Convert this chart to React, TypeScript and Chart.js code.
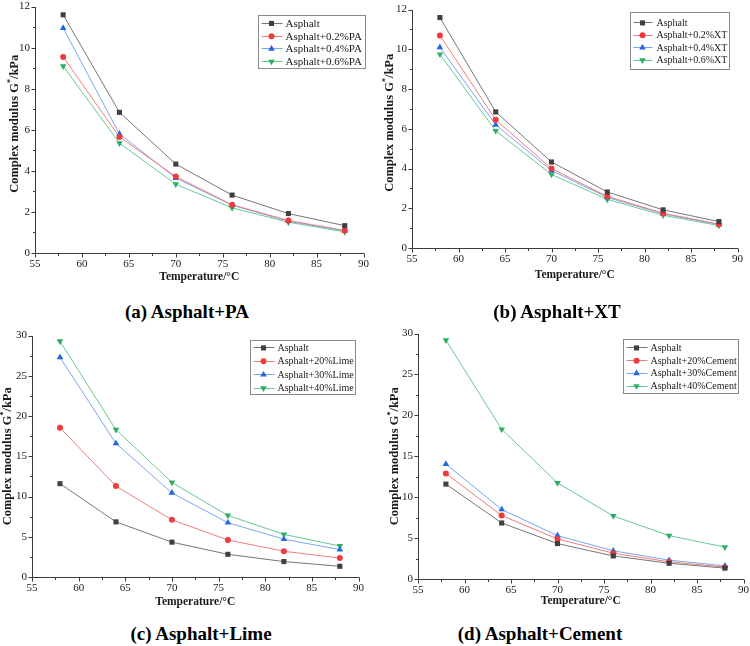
import React, { useEffect, useRef } from 'react';
import { Chart, registerables } from 'chart.js';

Chart.register(...registerables);

// Test temperatures (°C)
const temperatures = [58, 64, 70, 76, 82, 88];

// Complex modulus G* (kPa) of the base asphalt
const asphalt = [11.6, 6.85, 4.33, 2.82, 1.92, 1.33];

// PA-modified asphalt
const pa02 = [9.55, 5.65, 3.72, 2.35, 1.58, 1.1];
const pa04 = [10.95, 5.8, 3.65, 2.33, 1.55, 1.08];
const pa06 = [9.1, 5.35, 3.35, 2.2, 1.5, 1.03];

// XT-modified asphalt
const xt02 = [10.7, 6.45, 4.0, 2.6, 1.75, 1.2];
const xt04 = [10.1, 6.2, 3.9, 2.55, 1.72, 1.18];
const xt06 = [9.75, 5.9, 3.7, 2.45, 1.65, 1.13];

// Lime-filled asphalt
const lime20 = [18.55, 11.3, 7.1, 4.6, 3.2, 2.35];
const lime30 = [27.3, 16.6, 10.45, 6.75, 4.7, 3.4];
const lime40 = [29.3, 18.3, 11.75, 7.65, 5.3, 3.85];

// Cement-filled asphalt
const cement20 = [12.9, 7.75, 4.9, 3.15, 2.1, 1.45];
const cement30 = [14.05, 8.5, 5.3, 3.45, 2.3, 1.6];
const cement40 = [29.2, 18.3, 11.75, 7.7, 5.3, 3.9];

const namesPA = ['Asphalt', 'Asphalt+0.2%PA', 'Asphalt+0.4%PA', 'Asphalt+0.6%PA'];
const namesXT = ['Asphalt', 'Asphalt+0.2%XT', 'Asphalt+0.4%XT', 'Asphalt+0.6%XT'];
const namesLime = ['Asphalt', 'Asphalt+20%Lime', 'Asphalt+30%Lime', 'Asphalt+40%Lime'];
const namesCement = ['Asphalt', 'Asphalt+20%Cement', 'Asphalt+30%Cement', 'Asphalt+40%Cement'];

const captions = ['(a) Asphalt+PA', '(b) Asphalt+XT', '(c) Asphalt+Lime', '(d) Asphalt+Cement'];

const xRange = [55, 90];
const xStep = 5;
const xAxisTitle = 'Temperature/°C';
const yAxisTitleParts = ['Complex modulus G', '*', '/kPa'];

const SERIF = '"Liberation Serif", "Times New Roman", serif';
const AXIS_COLOR = '#3a3a3a';
const TEXT_COLOR = '#1a1a1a';

type SeriesStyle = { line: string; marker: string; shape: 'rect' | 'circle' | 'triangle'; rotation: number; radius: number };

const SERIES_STYLE: SeriesStyle[] = [
  { line: '#767676', marker: '#404040', shape: 'rect', rotation: 0, radius: 3.6 },
  { line: '#f27c7c', marker: '#f23a3a', shape: 'circle', rotation: 0, radius: 3 },
  { line: '#79a5f0', marker: '#2166e3', shape: 'triangle', rotation: 0, radius: 3.8 },
  { line: '#66c993', marker: '#2fae62', shape: 'triangle', rotation: 180, radius: 3.8 },
];

type PanelLayout = {
  plot: { l: number; r: number; t: number; b: number };
  yMax: number;
  yStep: number;
  xTitleDy: number;
  yTitleDx: number;
  yTitleDy: number;
  legend: { dx: number; dy: number; w: number; h: number; font: number; gap: number; markerDx: number; textDx: number };
  caption: { x: number; y: number };
};

const Y_W = 32;
const T_PAD = 10;
const R_PAD = 10;
const X_H = 36;

const layouts: PanelLayout[] = [
  {
    plot: { l: 35, r: 364, t: 5, b: 253 }, yMax: 12, yStep: 2,
    xTitleDy: 24, yTitleDx: 20, yTitleDy: -6,
    legend: { dx: 223, dy: 8, w: 107, h: 53, font: 11, gap: 12.7, markerDx: 13, textDx: 27 },
    caption: { x: 187, y: 312 },
  },
  {
    plot: { l: 412, r: 738, t: 8, b: 248 }, yMax: 12, yStep: 2,
    xTitleDy: 27, yTitleDx: 22, yTitleDy: -6,
    legend: { dx: 218, dy: 2, w: 99, h: 57, font: 10, gap: 12.4, markerDx: 12, textDx: 26 },
    caption: { x: 557, y: 312 },
  },
  {
    plot: { l: 32, r: 359, t: 334, b: 577 }, yMax: 30, yStep: 5,
    xTitleDy: 25, yTitleDx: 24, yTitleDy: 0,
    legend: { dx: 218, dy: 4, w: 105, h: 54, font: 10, gap: 13.4, markerDx: 13, textDx: 27 },
    caption: { x: 201, y: 634 },
  },
  {
    plot: { l: 418, r: 744, t: 332, b: 579 }, yMax: 30, yStep: 5,
    xTitleDy: 22, yTitleDx: 23, yTitleDy: 0,
    legend: { dx: 205, dy: 5, w: 115, h: 54, font: 10, gap: 12.7, markerDx: 13, textDx: 27 },
    caption: { x: 540, y: 634 },
  },
];

const panelSeries = [
  [asphalt, pa02, pa04, pa06],
  [asphalt, xt02, xt04, xt06],
  [asphalt, lime20, lime30, lime40],
  [asphalt, cement20, cement30, cement40],
];
const panelNames = [namesPA, namesXT, namesLime, namesCement];

function drawMarker(ctx: CanvasRenderingContext2D, st: SeriesStyle, x: number, y: number) {
  ctx.fillStyle = st.marker;
  ctx.beginPath();
  if (st.shape === 'rect') {
    const s = st.radius * Math.SQRT1_2;
    ctx.rect(x - s, y - s, 2 * s, 2 * s);
  } else if (st.shape === 'circle') {
    ctx.arc(x, y, st.radius, 0, Math.PI * 2);
  } else {
    let rad = (st.rotation * Math.PI) / 180;
    ctx.moveTo(x + Math.sin(rad) * st.radius, y - Math.cos(rad) * st.radius);
    rad += (2 * Math.PI) / 3;
    ctx.lineTo(x + Math.sin(rad) * st.radius, y - Math.cos(rad) * st.radius);
    rad += (2 * Math.PI) / 3;
    ctx.lineTo(x + Math.sin(rad) * st.radius, y - Math.cos(rad) * st.radius);
    ctx.closePath();
  }
  ctx.fill();
}

function makeDecor(layout: PanelLayout, names: string[]) {
  return {
    id: 'decor',
    afterDraw(chart: any) {
      const { ctx, chartArea: ca, scales } = chart;
      const xs = scales.x;
      const ys = scales.y;
      ctx.save();

      // axis lines
      ctx.strokeStyle = AXIS_COLOR;
      ctx.lineWidth = 1;
      const ax = Math.round(ca.left) + 0.5;
      const ay = Math.round(ca.bottom) + 0.5;
      ctx.beginPath();
      ctx.moveTo(ax, Math.round(ca.top));
      ctx.lineTo(ax, ay);
      ctx.lineTo(Math.round(ca.right), ay);
      ctx.stroke();

      // major and minor ticks, outward
      ctx.beginPath();
      const xHalf = xStep / 2;
      for (let v = xRange[0], i = 0; v <= xRange[1] + 1e-9; v += xHalf, i++) {
        const px = Math.round(xs.getPixelForValue(v)) + 0.5;
        const len = i % 2 === 0 ? 4 : 2.5;
        ctx.moveTo(px, ay);
        ctx.lineTo(px, ay + len);
      }
      const yHalf = layout.yStep / 2;
      for (let v = 0, i = 0; v <= layout.yMax + 1e-9; v += yHalf, i++) {
        const py = Math.round(ys.getPixelForValue(v)) + 0.5;
        const len = i % 2 === 0 ? 4 : 2.5;
        ctx.moveTo(ax, py);
        ctx.lineTo(ax - len, py);
      }
      ctx.stroke();

      // x axis title
      ctx.fillStyle = TEXT_COLOR;
      ctx.font = `bold 11.5px ${SERIF}`;
      ctx.textAlign = 'center';
      ctx.textBaseline = 'middle';
      ctx.fillText(xAxisTitle, (ca.left + ca.right) / 2, ca.bottom + layout.xTitleDy);

      // y axis title with superscript star
      const mainFont = `bold 12.5px ${SERIF}`;
      const supFont = `bold 8px ${SERIF}`;
      ctx.font = mainFont;
      const w0 = ctx.measureText(yAxisTitleParts[0]).width;
      const w2 = ctx.measureText(yAxisTitleParts[2]).width;
      ctx.font = supFont;
      const w1 = ctx.measureText(yAxisTitleParts[1]).width;
      const total = w0 + w1 + w2;
      ctx.translate(ca.left - layout.yTitleDx, (ca.top + ca.bottom) / 2 + layout.yTitleDy);
      ctx.rotate(-Math.PI / 2);
      ctx.textAlign = 'left';
      let cx = -total / 2;
      ctx.font = mainFont;
      ctx.fillText(yAxisTitleParts[0], cx, 0);
      cx += w0;
      ctx.font = supFont;
      ctx.fillText(yAxisTitleParts[1], cx, -4.5);
      cx += w1;
      ctx.font = mainFont;
      ctx.fillText(yAxisTitleParts[2], cx, 0);
      ctx.setTransform(1, 0, 0, 1, 0, 0);

      // legend box
      const lg = layout.legend;
      const lx = Math.round(ca.left + lg.dx) + 0.5;
      const ly = Math.round(ca.top + lg.dy) + 0.5;
      ctx.strokeStyle = '#8a8a8a';
      ctx.lineWidth = 1;
      ctx.strokeRect(lx, ly, lg.w, lg.h);
      ctx.font = `${lg.font}px ${SERIF}`;
      ctx.textAlign = 'left';
      ctx.textBaseline = 'middle';
      names.forEach((name, i) => {
        const st = SERIES_STYLE[i];
        const ry = ly + lg.h / 2 + (i - 1.5) * lg.gap;
        ctx.strokeStyle = st.line;
        ctx.beginPath();
        ctx.moveTo(lx + 3, Math.round(ry) + 0.5);
        ctx.lineTo(lx + lg.markerDx * 2 - 2, Math.round(ry) + 0.5);
        ctx.stroke();
        drawMarker(ctx, st, lx + lg.markerDx, ry + 0.5);
        ctx.fillStyle = TEXT_COLOR;
        ctx.fillText(name, lx + lg.textDx, ry + 1);
      });

      ctx.restore();
    },
  };
}

function Panel({ index }: { index: number }) {
  const ref = useRef<HTMLCanvasElement>(null);
  const layout = layouts[index];
  const { plot } = layout;
  const w = plot.r - plot.l + Y_W + R_PAD;
  const h = plot.b - plot.t + T_PAD + X_H;

  useEffect(() => {
    const canvas = ref.current;
    if (!canvas) return;
    const series = panelSeries[index];
    const names = panelNames[index];
    const chart = new Chart(canvas, {
      type: 'line',
      data: {
        datasets: series.map((vals, i) => {
          const st = SERIES_STYLE[i];
          return {
            label: names[i],
            data: temperatures.map((t, j) => ({ x: t, y: vals[j] })),
            borderColor: st.line,
            borderWidth: 1,
            backgroundColor: st.marker,
            pointBackgroundColor: st.marker,
            pointBorderColor: st.marker,
            pointBorderWidth: 0,
            pointStyle: st.shape,
            pointRotation: st.rotation,
            pointRadius: st.radius,
            tension: 0,
            clip: false as any,
          };
        }),
      },
      options: {
        responsive: false,
        animation: false,
        devicePixelRatio: 1,
        events: [],
        layout: { padding: { left: 0, top: T_PAD, right: R_PAD, bottom: 0 } },
        plugins: {
          legend: { display: false },
          tooltip: { enabled: false },
          title: { display: false },
        },
        scales: {
          x: {
            type: 'linear',
            min: xRange[0],
            max: xRange[1],
            afterFit: (s: any) => { s.height = X_H; },
            grid: { display: false, drawTicks: false },
            border: { display: false },
            ticks: {
              stepSize: xStep,
              padding: 5,
              color: TEXT_COLOR,
              font: { family: SERIF, size: 11 },
              maxRotation: 0,
              autoSkip: false,
            },
          },
          y: {
            type: 'linear',
            min: 0,
            max: layout.yMax,
            afterFit: (s: any) => { s.width = Y_W; },
            grid: { display: false, drawTicks: false },
            border: { display: false },
            ticks: {
              stepSize: layout.yStep,
              padding: 5,
              color: TEXT_COLOR,
              font: { family: SERIF, size: 11 },
              autoSkip: false,
            },
          },
        },
      },
      plugins: [makeDecor(layout, names)],
    });
    return () => chart.destroy();
  }, [index]);

  return (
    <canvas
      ref={ref}
      width={w}
      height={h}
      style={{ position: 'absolute', left: plot.l - Y_W, top: plot.t - T_PAD, width: w, height: h }}
    />
  );
}

export default function App() {
  return (
    <div style={{ position: 'absolute', left: 0, top: 0, width: 750, height: 646, background: '#fff', overflow: 'hidden' }}>
      {layouts.map((_, i) => (
        <Panel key={i} index={i} />
      ))}
      {layouts.map((ly, i) => (
        <div
          key={'c' + i}
          style={{
            position: 'absolute',
            left: ly.caption.x,
            top: ly.caption.y,
            transform: 'translate(-50%, -50%)',
            whiteSpace: 'nowrap',
            fontFamily: SERIF,
            fontWeight: 'bold',
            fontSize: 19,
            lineHeight: '20px',
            color: '#000',
          }}
        >
          {captions[i]}
        </div>
      ))}
    </div>
  );
}
